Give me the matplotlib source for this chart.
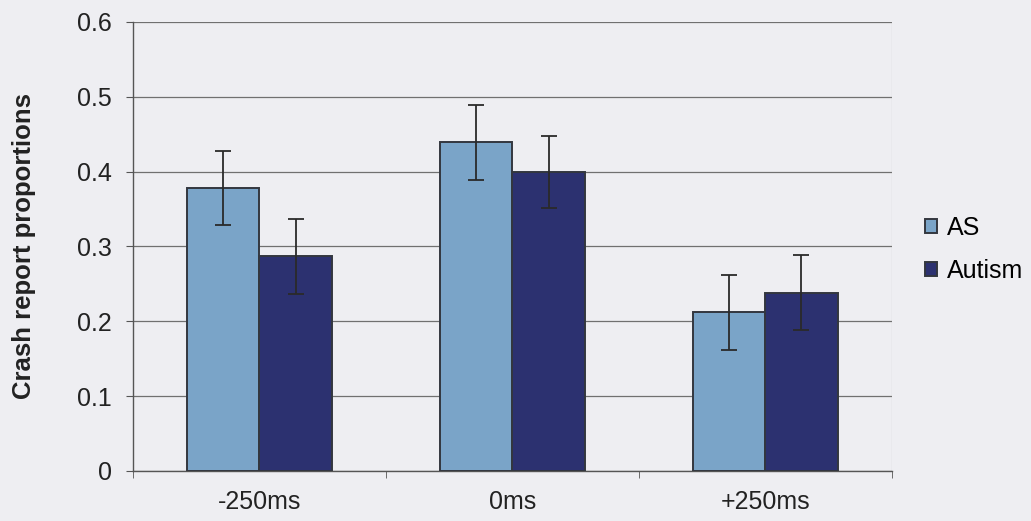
import matplotlib
matplotlib.use('Agg')
import matplotlib.pyplot as plt
import numpy as np

categories = ['-250ms', '0ms', '+250ms']
as_vals = [0.378, 0.439, 0.212]
as_err = [0.050, 0.050, 0.050]
autism_vals = [0.287, 0.400, 0.238]
autism_err = [0.050, 0.048, 0.050]

bg = '#eeeef2'
plt.rcParams['font.family'] = ['Liberation Sans', 'DejaVu Sans']

fig = plt.figure(figsize=(10.31, 5.21), dpi=100, facecolor=bg)
ax = fig.add_axes([0.129, 0.096, 0.736, 0.862], facecolor=bg)

x = np.arange(len(categories))
w = 1 / 3.5
bar_kw = dict(width=w, edgecolor='#33373f', linewidth=1.4, zorder=3)
ax.bar(x - w / 2, as_vals, color='#7aa4c8', label='AS', **bar_kw)
ax.bar(x + w / 2, autism_vals, color='#2c3170', label='Autism', **bar_kw)
err_kw = dict(fmt='none', ecolor='#2a2a2a', elinewidth=1.3, capsize=5.5,
              capthick=1.3, zorder=4)
ax.errorbar(x - w / 2, as_vals, yerr=as_err, **err_kw)
ax.errorbar(x + w / 2, autism_vals, yerr=autism_err, **err_kw)

ax.set_xlim(-0.5, len(categories) - 0.5)
ax.set_ylim(0, 0.6)
ax.set_yticks(np.arange(0, 0.61, 0.1))
ax.set_yticklabels(['0', '0.1', '0.2', '0.3', '0.4', '0.5', '0.6'])
ax.yaxis.grid(True, color='#707070', linewidth=0.9, zorder=0)
ax.set_axisbelow(True)

ax.set_xticks(x)
ax.set_xticklabels(categories)
ax.set_xticks(np.arange(-0.5, len(categories)), minor=True)
ax.tick_params(axis='x', which='major', length=0, pad=14, labelsize=18,
               colors='#222222')
ax.tick_params(axis='x', which='minor', length=5, direction='out',
               color='#555555')
ax.tick_params(axis='y', length=5, direction='out', color='#555555',
               labelsize=18, labelcolor='#222222', pad=10)

for side in ['top', 'right']:
    ax.spines[side].set_visible(False)
for side in ['left', 'bottom']:
    ax.spines[side].set_color('#555555')
    ax.spines[side].set_linewidth(1.0)
ax.axvline(len(categories) - 0.5, color='#9a9a9a', linewidth=0.8)

ax.set_ylabel('Crash report proportions', fontsize=18.5, fontweight='bold',
              color='#222222', labelpad=30)

ax.legend(loc='upper left', bbox_to_anchor=(1.03, 0.59), frameon=False,
          fontsize=18, handlelength=0.5, handleheight=0.5, handletextpad=0.4,
          labelspacing=0.75, borderaxespad=0)

fig.savefig('out.png', dpi=100, facecolor=bg)
